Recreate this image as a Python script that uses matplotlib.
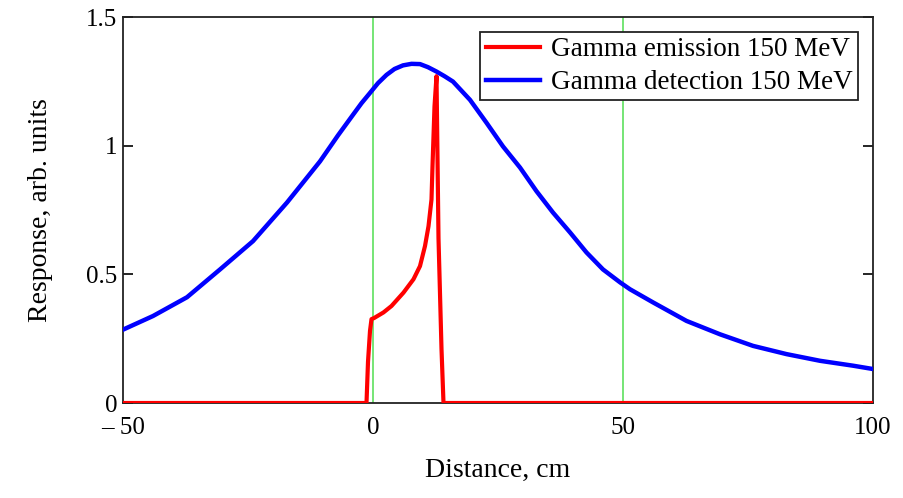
import numpy as np
import matplotlib
matplotlib.use('Agg')
import matplotlib.pyplot as plt

# detection response (blue)
det_x = [-50, -44.0, -37.2, -30.6, -24.0, -17.2, -10.6, -7.0, -4.0, -2.3, -0.6, 1.0, 2.7, 4.3, 6.0,
         7.7, 9.4, 11.0, 12.7, 14.3, 16.0, 19.4, 22.7, 26.0, 29.4, 32.7, 36.0, 39.4, 42.7, 46.0,
         49.4, 51.4, 56.0, 62.7, 69.4, 76.0, 82.7, 89.4, 96.0, 100]
det_y = [0.285, 0.338, 0.411, 0.519, 0.629, 0.779, 0.939, 1.04, 1.12, 1.165, 1.205, 1.243, 1.275, 1.298, 1.312,
         1.318, 1.317, 1.305, 1.288, 1.27, 1.249, 1.178, 1.089, 0.997, 0.915, 0.823, 0.740, 0.663, 0.585, 0.519,
         0.469, 0.442, 0.391, 0.319, 0.267, 0.222, 0.190, 0.164, 0.145, 0.132]

# emission profile (red)
em_x = [-50, -1.3, -1.0, -0.6, -0.3, 0.2, 2.1, 3.7, 6.1, 8.1, 9.4, 10.4, 11.1, 11.7,
        11.9, 12.3, 12.7, 13.1, 13.7, 14.1, 100]
em_y = [0, 0, 0.16, 0.28, 0.326, 0.33, 0.352, 0.377, 0.429, 0.481, 0.532, 0.61, 0.687, 0.791,
        0.92, 1.152, 1.27, 0.64, 0.21, 0, 0]

vlines = [0, 50]
xticks = [-50, 0, 50, 100]
xtick_labels = ['\u2013 50', '0', '50', '100']
yticks = [0, 0.5, 1, 1.5]
ytick_labels = ['0', '0.5', '1', '1.5']

plt.rcParams['font.family'] = ['Liberation Serif', 'DejaVu Serif']

fig = plt.figure(figsize=(9.04, 4.98), dpi=100)
ax = fig.add_axes([123/904, 1-403/498, 750/904, 386/498])

for v in vlines:
    ax.axvline(v, color='#5ee05e', lw=1.2, zorder=1)
ax.plot(em_x, em_y, color='#ff0000', lw=3.0, label='Gamma emission 150 MeV', zorder=3)
ax.plot(det_x, det_y, color='#0000ff', lw=3.2, label='Gamma detection 150 MeV', zorder=3,
        solid_joinstyle='round')

ax.set_xlim(-50, 100)
ax.set_ylim(0, 1.5)
ax.set_xticks(xticks)
ax.set_xticklabels(xtick_labels)
ax.set_yticks(yticks)
ax.set_yticklabels(ytick_labels)
ax.tick_params(axis='x', length=0, pad=10, labelsize=18)
ax.tick_params(axis='y', direction='in', length=7, width=1.2, right=True, labelsize=18, pad=4)
for s in ax.spines.values():
    s.set_linewidth(1.3)
    s.set_color('#222222')
    s.set_zorder(2)

ax.set_xlabel('Distance, cm', fontsize=20, labelpad=14)
ax.set_ylabel('Response, arb. units', fontsize=20, labelpad=24)

leg = ax.legend(loc='upper right', bbox_to_anchor=(0.98, 0.961), borderaxespad=0,
                fontsize=19.5, handlelength=2.0, handletextpad=0.4, borderpad=0.2,
                labelspacing=0.28, fancybox=False, framealpha=1, edgecolor='#222222')
leg.get_frame().set_linewidth(1.3)

fig.savefig('out.png', dpi=100)
